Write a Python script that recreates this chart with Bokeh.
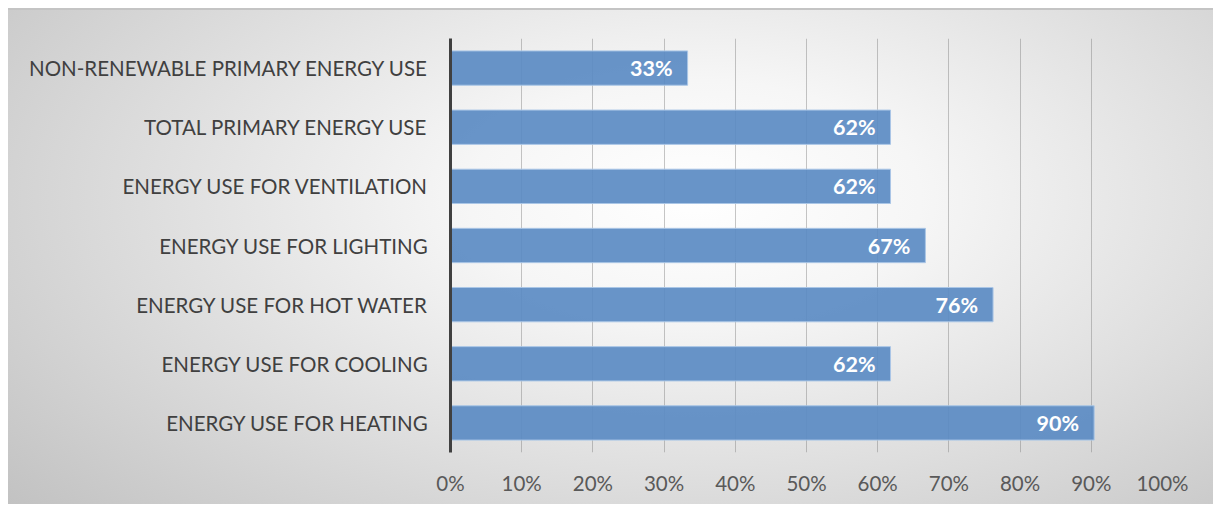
from bokeh.plotting import figure
from bokeh.models import ColumnDataSource, FactorRange, Range1d, PrintfTickFormatter, FixedTicker
from bokeh.core.properties import value
from bokeh.embed import file_html
from bokeh.resources import INLINE

categories = [
    "ENERGY USE FOR HEATING",
    "ENERGY USE FOR COOLING",
    "ENERGY USE FOR HOT WATER",
    "ENERGY USE FOR LIGHTING",
    "ENERGY USE FOR VENTILATION",
    "TOTAL PRIMARY ENERGY USE",
    "NON-RENEWABLE PRIMARY ENERGY USE",
]
values = [90.4, 61.8, 76.2, 66.7, 61.8, 61.8, 33.3]
labels = ["90%", "62%", "76%", "67%", "62%", "62%", "33%"]
x_ticks = [0, 10, 20, 30, 40, 50, 60, 70, 80, 90, 100]

src = ColumnDataSource(dict(cat=categories, val=values, lab=labels))

p = figure(
    width=1205, height=496,
    y_range=FactorRange(*categories, range_padding=0),
    x_range=Range1d(0, 100),
    output_backend="svg", toolbar_location=None,
    min_border_left=442, min_border_right=51, min_border_top=28, min_border_bottom=54,
    styles={"background": "radial-gradient(ellipse 75% 95% at 57% 38%, #ffffff 0%, #f6f6f6 25%, #dedede 60%, #c2c2c2 100%)",
            "border-top": "2px solid #c4c4c4",
            "margin": "8px 0 0 8px"},
)
p.background_fill_alpha = 0
p.border_fill_alpha = 0
p.outline_line_color = None

p.hbar(y="cat", right="val", left=0, height=0.58, source=src,
       fill_color="#5b8bc3", fill_alpha=0.92, line_color="#aac6e6", line_width=1)

p.text(x="val", y="cat", text="lab", source=src, x_offset=-15,
       text_align="right", text_baseline="middle",
       text_font=value("Lato"), text_font_style="bold", text_font_size="21.5px",
       text_color="#ffffff")

p.xgrid.ticker = FixedTicker(ticks=x_ticks)
p.xgrid.grid_line_color = "#808080"
p.xgrid.grid_line_alpha = 0.45
p.ygrid.grid_line_color = None

p.xaxis.ticker = FixedTicker(ticks=x_ticks)
p.xaxis.formatter = PrintfTickFormatter(format="%d%%")
p.xaxis.axis_line_color = None
p.xaxis.major_tick_line_color = None
p.xaxis.minor_tick_line_color = None
p.xaxis.major_label_standoff = 12
p.xaxis.major_label_text_font = "Lato"
p.xaxis.major_label_text_font_size = "20.5px"
p.xaxis.major_label_text_color = "#595959"

p.yaxis.axis_line_color = "#404040"
p.yaxis.axis_line_width = 3
p.yaxis.major_tick_line_color = None
p.yaxis.minor_tick_line_color = None
p.yaxis.major_label_standoff = 16
p.yaxis.major_label_text_font = "Lato"
p.yaxis.major_label_text_font_size = "20.5px"
p.yaxis.major_label_text_color = "#404040"

open("out.html", "w").write(file_html(p, INLINE))
